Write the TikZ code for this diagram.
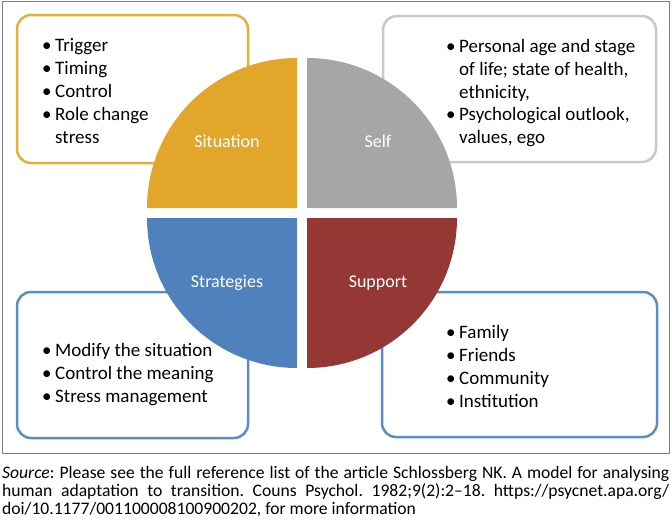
\documentclass[tikz,border=0pt]{standalone}
\usepackage{fontspec}
\setmainfont{Carlito}
\definecolor{sitgold}{HTML}{E2A62B}
\definecolor{selfgray}{HTML}{A6A6A6}
\definecolor{stratblue}{HTML}{4F81BD}
\definecolor{suppred}{HTML}{953735}
\definecolor{sitline}{HTML}{E8AD3A}
\definecolor{selfline}{HTML}{C9C9C9}
\definecolor{boxblue}{HTML}{5B8CC8}
\begin{document}
\begin{tikzpicture}[x=1pt,y=-1pt,
    listbox/.style={line width=2.5pt,rounded corners=14pt},
    quarter/.style={white,font=\fontsize{18}{22}\selectfont,anchor=base},
    bullets/.style={anchor=base west,inner sep=0pt,font=\fontsize{19}{23}\selectfont}]
    \useasboundingbox (0,0) rectangle (672,522);
    \draw[gray,line width=1pt] (2,1) rectangle (669,453);

    \draw[listbox,sitline]  (17,15) rectangle (248,163);
    \draw[listbox,selfline] (383,16) rectangle (656,162);
    \draw[listbox,boxblue]  (17,292) rectangle (248,438);
    \draw[listbox,boxblue]  (382,292) rectangle (657,437);

    \fill[sitgold]   (297,208) -- ++(-150,0) arc[start angle=180,end angle=270,radius=150] -- cycle;
    \fill[selfgray]  (307,208) -- ++(0,-150) arc[start angle=270,end angle=360,radius=150] -- cycle;
    \fill[suppred]   (307,218) -- ++(150,0) arc[start angle=0,end angle=90,radius=150] -- cycle;
    \fill[stratblue] (297,218) -- ++(0,150) arc[start angle=90,end angle=180,radius=150] -- cycle;

    \node[quarter] (situation)  at (227,147) {Situation};
    \node[quarter] (self)       at (378,147) {Self};
    \node[quarter] (strategies) at (227,287) {Strategies};
    \node[quarter] (support)    at (378,287) {Support};

    \node[bullets] (sitlist) at (42,51) {\begin{tabular}[t]{@{}p{13pt}@{}l@{}}
        • & Trigger\\ • & Timing\\ • & Control\\ • & Role change\\ & stress\end{tabular}};
    \node[bullets] (selflist) at (446,52) {\begin{tabular}[t]{@{}p{13pt}@{}l@{}}
        • & Personal age and stage\\ & of life; state of health,\\ & ethnicity,\\
        • & Psychological outlook,\\ & values, ego\end{tabular}};
    \node[bullets] (stratlist) at (42,356) {\begin{tabular}[t]{@{}p{13pt}@{}l@{}}
        • & Modify the situation\\ • & Control the meaning\\ • & Stress management\end{tabular}};
    \node[bullets] (supplist) at (446,338) {\begin{tabular}[t]{@{}p{13pt}@{}l@{}}
        • & Family\\ • & Friends\\ • & Community\\ • & Institution\end{tabular}};

    \node[anchor=base west,inner sep=0pt] (source) at (2,478) {\parbox[t]{667pt}{\fontsize{17.6}{18}\selectfont\frenchspacing
        \emph{Source}: Please see the full reference list of the article Schlossberg NK. A model for analysing\linebreak
        human adaptation to transition. Couns Psychol. 1982;9(2):2–18. https://psycnet.apa.org/\linebreak
        doi/10.1177/001100008100900202, for more information}};
  \end{tikzpicture}
\end{document}
